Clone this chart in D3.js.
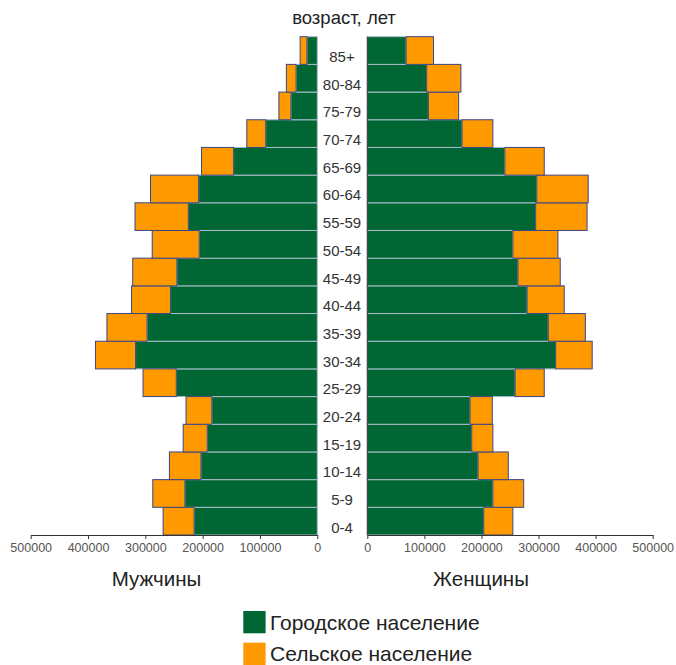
<!DOCTYPE html>
<html><head><meta charset="utf-8">
<script src="https://cdn.jsdelivr.net/npm/d3@7"></script>
<style>body{margin:0;background:#fff;font-family:"Liberation Sans",Arial,sans-serif;}</style>
</head><body>
<svg id="c" width="676" height="665"></svg>
<script>
const ages = ["0-4","5-9","10-14","15-19","20-24","25-29","30-34","35-39","40-44","45-49","50-54","55-59","60-64","65-69","70-74","75-79","80-84","85+"];
const maleUrban   = [215000,231000,203000,192000,184000,246000,317000,297000,256000,245000,206000,225000,207000,146000,90000,46000,37000,18000];
const maleRural   = [54000,56000,55000,42000,45000,58000,70000,70000,68000,77000,82000,93000,84000,56000,33000,21000,17000,12000];
const femaleUrban = [204000,220000,194000,183000,180000,259000,330000,317000,280000,264000,255000,295000,297000,241000,166000,107000,104000,68000];
const femaleRural = [51000,54000,53000,37000,39000,51000,64000,65000,65000,74000,79000,90000,90000,69000,54000,53000,60000,48000];
const xTicks = [0,100000,200000,300000,400000,500000];
const seriesNames = ["Городское население","Сельское население"];
const colors = ["#006633","#ff9900"];

const svg = d3.select("#c");
const y = d3.scaleBand().domain(ages.slice().reverse()).range([36.7,535]).padding(0);
const xL = d3.scaleLinear().domain([0,500000]).range([317.3,30.7]);
const xR = d3.scaleLinear().domain([0,500000]).range([367.3,652.7]);

const rows = ages.map((a,i)=>({a, mu:maleUrban[i], mr:maleRural[i], fu:femaleUrban[i], fr:femaleRural[i]}));

const gStroke = "#a9bccb", oStroke = "#3b4686";
// male
const gm = svg.append("g");
gm.selectAll("rect.u").data(rows).join("rect")
  .attr("x", d=>xL(d.mu)).attr("width", d=>xL(0)-xL(d.mu))
  .attr("y", d=>y(d.a)).attr("height", y.bandwidth())
  .attr("fill", colors[0]).attr("stroke", gStroke).attr("stroke-width",1);
gm.selectAll("rect.r").data(rows).join("rect")
  .attr("x", d=>xL(d.mu+d.mr)).attr("width", d=>xL(d.mu)-xL(d.mu+d.mr))
  .attr("y", d=>y(d.a)).attr("height", y.bandwidth())
  .attr("fill", colors[1]).attr("stroke", oStroke).attr("stroke-width",1);
// female
const gf = svg.append("g");
gf.selectAll("rect.u").data(rows).join("rect")
  .attr("x", d=>xR(0)).attr("width", d=>xR(d.fu)-xR(0))
  .attr("y", d=>y(d.a)).attr("height", y.bandwidth())
  .attr("fill", colors[0]).attr("stroke", gStroke).attr("stroke-width",1);
gf.selectAll("rect.r").data(rows).join("rect")
  .attr("x", d=>xR(d.fu)).attr("width", d=>xR(d.fu+d.fr)-xR(d.fu))
  .attr("y", d=>y(d.a)).attr("height", y.bandwidth())
  .attr("fill", colors[1]).attr("stroke", oStroke).attr("stroke-width",1);

// vertical axis line on female side
svg.append("line").attr("x1",xR(0)).attr("x2",xR(0)).attr("y1",36.7).attr("y2",535)
  .attr("stroke","#333").attr("stroke-width",1);

// x axes
function styleAxis(g){
  g.select(".domain").attr("stroke","#333");
  g.selectAll(".tick line").attr("stroke","#333");
  g.selectAll(".tick text").attr("fill","#555").attr("font-size","12.5px")
    .attr("font-family","'Liberation Sans',Arial,sans-serif");
}
svg.append("g").attr("transform","translate(0,535)")
  .call(d3.axisBottom(xL).tickValues(xTicks).tickFormat(d3.format("d")).tickSize(4).tickSizeOuter(0).tickPadding(4))
  .call(styleAxis);
svg.append("g").attr("transform","translate(0,535)")
  .call(d3.axisBottom(xR).tickValues(xTicks).tickFormat(d3.format("d")).tickSize(4).tickSizeOuter(0).tickPadding(4))
  .call(styleAxis);

// age labels
svg.append("g").selectAll("text").data(ages).join("text")
  .attr("x", 342).attr("y", d=>y(d)+y.bandwidth()/2+6)
  .attr("text-anchor","middle").attr("dominant-baseline","central")
  .attr("font-size","15px").attr("fill","#333").text(d=>d);

// title
svg.append("text").attr("x",344).attr("y",17).attr("text-anchor","middle")
  .attr("dominant-baseline","central").attr("font-size","18.5px").attr("fill","#222").text("возраст, лет");

svg.append("text").attr("x",156.5).attr("y",578).attr("text-anchor","middle")
  .attr("dominant-baseline","central").attr("font-size","20.5px").attr("fill","#222").text("Мужчины");
svg.append("text").attr("x",481).attr("y",578).attr("text-anchor","middle")
  .attr("dominant-baseline","central").attr("font-size","20.5px").attr("fill","#222").text("Женщины");

// legend
const lg = svg.append("g");
seriesNames.forEach((n,i)=>{
  lg.append("rect").attr("x",243.3).attr("y",611+i*31.7).attr("width",22.3).attr("height",22.3).attr("fill",colors[i]);
  lg.append("text").attr("x",270).attr("y",622+i*31.7).attr("dominant-baseline","central")
    .attr("font-size","21px").attr("fill","#222").text(n);
});
</script>
</body></html>
